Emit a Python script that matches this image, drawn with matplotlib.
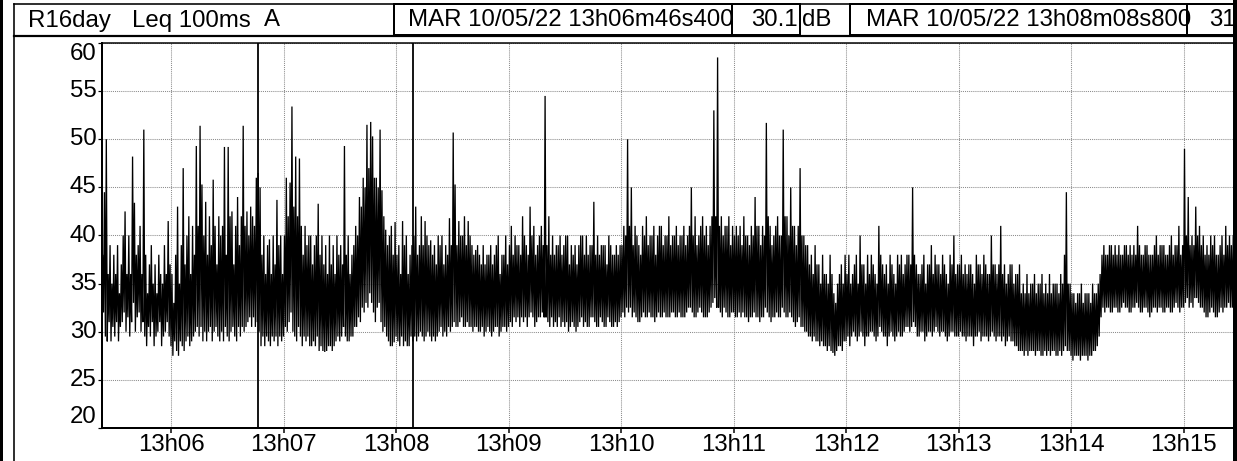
import numpy as np
import matplotlib
matplotlib.use("Agg")
import matplotlib.pyplot as plt
from matplotlib.patches import Rectangle

plt.rcParams['font.family'] = ['Liberation Sans', 'DejaVu Sans']

# ------------- data: per-second floor (lo) and peak (hi) of the 100 ms Leq, dB(A) -------------
# time in seconds after 13h00; first second is 13h05m23s
t_start = 323
hi_1305 = [38, 44.5, 50, 36, 39, 35, 38, 36, 39, 34, 37, 40, 42.5, 36, 40, 36, 48.2, 43.4, 38, 39,
           41, 36, 51, 38, 34, 37, 39, 35, 37, 34, 38, 36, 35, 39, 36, 41.5, 37]
lo_1305 = [30, 32, 29.5, 29, 31, 29, 30.5, 29.5, 31, 29, 30.5, 31, 32, 30, 31.5, 29.5, 31, 33, 30, 31.5,
           32, 30, 31, 29.5, 28.5, 30.5, 29.5, 31, 28.5, 29.5, 30, 31, 28.5, 29.5, 30, 31, 29.5]
hi_1306 = [36, 33, 38, 43, 35, 39, 47, 37, 40, 42, 36, 41, 38, 49.3, 41, 51.4, 45.3, 40, 43.5, 38,
           42, 39, 45.8, 41, 37, 42, 40, 41, 49.2, 38, 49.2, 42, 42.5, 37, 41, 44, 39, 42, 51.4, 41,
           42.5, 40, 43, 42, 41, 46, 46.5, 45, 38, 40, 36, 39, 39.6, 36, 40, 37, 43.7, 39, 40, 36]
lo_1306 = [28.5, 27.5, 29, 28, 27.5, 29, 28.5, 28, 29, 29.5, 28.5, 29, 29.5, 30, 30.5, 29.5, 30.5, 29, 30, 29,
           30, 30.5, 29, 30, 30.5, 29.5, 29, 30, 29, 30.5, 29.5, 29, 30, 30.5, 29.5, 29, 30.5, 29.5, 30.5, 30,
           30.5, 31, 31.5, 30.5, 31.5, 30.5, 31, 30, 28.5, 29.5, 28.5, 29.5, 29, 28.5, 29.5, 29, 29.5, 28.5, 29.5, 29]
hi_1307 = [40, 46, 42, 45.5, 53.4, 43, 48.2, 42, 48, 41, 38, 41, 39, 40, 40, 37, 39, 40, 43.3, 38,
           40, 37, 39, 36, 40, 37, 39, 36, 40, 38, 39, 37, 49.3, 38, 40, 36, 38, 39, 41, 40,
           44, 43, 46, 45, 51.5, 47, 51.8, 50.3, 46, 46, 45, 51, 44.7, 42, 40.6, 39, 40, 41, 38, 41.4]
lo_1307 = [29.5, 30.5, 30, 31, 32, 30, 29.5, 29, 30.5, 29.5, 28.5, 29.5, 29, 29.5, 28.5, 28.5, 29, 28.5, 29.5, 28,
           28.5, 28, 27.9, 28, 28.5, 28.5, 28, 28.5, 29, 29.5, 29, 29.5, 30.5, 29.5, 29, 29, 29.5, 29.5, 30.5, 30.5,
           31.5, 31, 32.5, 32, 33, 32.5, 34, 33, 32, 31, 32.5, 33, 31, 30, 30.5, 29.5, 29, 28.5, 28.5, 28.9]
hi_1308 = [38, 39, 36, 41.5, 39, 40, 36, 38, 39, 40, 43, 38, 39, 42, 39, 41.5, 40, 39, 39.5, 38,
           39, 37, 40, 39, 40, 37, 39, 38, 41.8, 39, 50.7, 45.3, 39, 41.5, 40, 40, 42, 39, 41.5, 40,
           39, 38, 38.5, 39, 38, 37, 39, 37, 38, 38, 39, 37, 38, 39, 40, 36, 38, 38, 40, 37]
lo_1308 = [29.5, 29, 28.5, 29.5, 28.5, 29, 28.5, 28.5, 29.5, 29, 29.5, 29, 29.5, 30, 29.5, 29, 29.5, 30, 29.5, 29,
           29.5, 29, 29.5, 30, 30.5, 29.5, 30, 29.5, 30.5, 30, 30.5, 31, 30.5, 30.5, 31, 31.5, 30.5, 30.5, 31, 30.5,
           30.5, 30, 30.5, 30.5, 30, 30, 30.5, 29.5, 30, 30.5, 30, 29.5, 30, 30.5, 30.5, 29.5, 30, 30.5, 30.5, 30]
hi_1309 = [39, 41, 38, 40, 39, 39, 38, 42, 40, 39, 38, 43, 40, 41, 38, 39, 40, 41, 39, 54.5,
           39, 42, 38, 40, 38, 39, 39, 40, 38, 39, 40, 40, 37, 39, 38, 39, 37, 39, 40, 40,
           38, 40, 38, 39, 39, 43.5, 38, 40, 38, 39, 39, 39, 37, 40, 39, 38, 38, 39, 38, 39]
lo_1309 = [30.5, 31, 30.5, 31.5, 31, 31.5, 30.5, 31.5, 31, 31.5, 30.5, 31.5, 32, 31.5, 30.5, 31, 31.5, 31.5, 32, 31.5,
           31.5, 31, 30.5, 31.5, 30.5, 31, 30.5, 31.5, 30.5, 31, 30.5, 31, 30, 30.5, 31, 30.5, 30, 30.5, 31, 31.5,
           30.5, 31, 30.5, 30.5, 31.5, 31.5, 31, 30.5, 30.5, 31.5, 31, 30.5, 30.5, 31.5, 31, 30.5, 30.5, 31, 30.5, 31]
hi_1310 = [39, 41, 40, 50, 41, 45, 39, 41, 40, 39, 38, 41, 40, 42, 39, 40, 40, 41, 38, 40,
           41, 41, 39, 40, 40, 42, 39, 40, 40, 41, 39, 40, 40, 41, 39, 40, 41, 45, 40, 42,
           39, 40, 41, 42, 40, 41, 39, 41, 42, 53, 42, 58.5, 41, 42, 40, 41, 41, 42, 39, 41]
lo_1310 = [31.5, 32, 31.5, 32.5, 32, 32.5, 31.5, 32, 31.5, 31, 31, 31.5, 32, 31.5, 31.5, 32, 31.5, 31.5, 31, 31.5,
           32, 31.5, 31.5, 32, 31.5, 31.5, 31.5, 32, 32, 31.5, 31.5, 32, 31.5, 31.5, 31.5, 32, 32.5, 32.5, 32, 31.5,
           31.5, 32, 32.5, 32, 31.5, 31.5, 31.5, 32, 32.5, 33, 33.5, 32.5, 32.5, 32, 31.5, 32.5, 32, 31.5, 31.5, 32]
hi_1311 = [40, 41, 40, 41, 39, 42, 40, 40, 39, 41, 40, 44, 41, 41, 39, 41, 40, 51.7, 42, 41,
           39, 40, 41, 42, 40, 40, 51, 42, 42, 40, 45, 41, 41, 39, 41, 47, 40, 40, 39, 39,
           37, 38, 36, 39, 37, 37, 35, 38, 36, 36, 35, 38, 36, 34, 33, 35, 36, 37, 35, 38]
lo_1311 = [32, 31.5, 31.5, 32, 31.5, 32, 31.5, 31.5, 31, 31.5, 31.5, 32, 31.5, 31.5, 31, 31.5, 31.5, 32.5, 32, 31.5,
           31, 31.5, 31.5, 32, 31.5, 31.5, 32.5, 32, 31.5, 31.5, 32, 31.5, 31, 30.5, 31, 31.5, 30.5, 30.5, 30, 30,
           29.5, 29.5, 29, 29.5, 29, 29, 28.5, 29, 28.5, 28.5, 28, 28.5, 28, 27.8, 27.5, 28, 28.5, 28.5, 28, 29]
hi_1312 = [36, 38, 35, 36, 37, 38, 35, 40, 37, 37, 35, 38, 36, 38, 37, 36, 35, 41, 38, 37,
           36, 37, 35, 38, 37, 36, 35, 38, 37, 38, 36, 37, 38, 38, 37, 45, 38, 37, 36, 36,
           37, 38, 35, 37, 37, 39, 36, 38, 37, 37, 36, 38, 37, 36, 35, 38, 37, 40, 36, 37]
lo_1312 = [29, 29.5, 28.5, 29.5, 30, 29.5, 29, 29.5, 30, 29.5, 28.5, 29.5, 29.5, 30, 30, 29.5, 29, 29.5, 30.5, 30,
           29.5, 29.5, 28.5, 29.5, 30, 29.5, 29, 29.5, 30, 29.5, 29.5, 30, 30.5, 30.5, 30, 30.5, 31, 30.5, 29.5, 29.5,
           30, 30, 29, 29.5, 30, 30, 29.5, 30, 30.5, 30, 29.5, 30, 30, 29.5, 29, 29.5, 30, 30, 29.5, 29.5]
hi_1313 = [37, 38, 36, 37, 36, 37, 37, 36, 35, 38, 37, 37, 36, 38, 37, 36, 36, 40, 37, 37,
           36, 37, 41, 36, 37, 35, 36, 37, 37, 35, 36, 36, 37, 34, 35, 34, 36, 34, 35, 35,
           36, 34, 35, 35, 36, 34, 35, 34, 36, 34, 35, 35, 35, 34, 36, 35, 38, 44.5, 35, 35]
lo_1313 = [29.5, 30, 29.5, 29.5, 29, 29.5, 29.5, 29.5, 28.5, 29.5, 29.5, 30, 29, 29.5, 29.5, 29.5, 29, 29.5, 30, 29.5,
           29, 29.5, 29.5, 29, 29.5, 28.5, 29, 29.5, 29, 29, 28.5, 28.5, 28, 28, 28, 27.5, 28, 27.5, 28, 28,
           28, 27.5, 28, 28, 27.5, 27.5, 28, 27.5, 28, 27.5, 28, 28, 27.5, 27.5, 28, 27.5, 28, 28.5, 28, 28]
hi_1314 = [34, 34, 33, 34, 34, 35, 33, 34, 34, 34, 33, 35, 34, 34, 35, 36, 38, 39, 38, 38,
           39, 39, 38, 39, 38, 39, 38, 38, 39, 39, 38, 39, 38, 39, 38, 41, 39, 38, 38, 39,
           39, 38, 38, 38, 39, 40, 38, 39, 39, 39, 38, 38, 39, 40, 38, 39, 39, 41, 38, 39]
lo_1314 = [27.5, 27, 27.5, 27.5, 27.5, 27, 27.5, 27.5, 27.5, 27, 27.5, 27.5, 28, 28, 28.5, 29.5, 31.5, 32.5, 32, 32.5,
           32.5, 32, 32, 32.5, 32.5, 32, 32, 32.5, 33, 32.5, 32.5, 32, 32, 32.5, 32.5, 33, 32.5, 32, 32, 32.5,
           32.5, 32, 31.5, 32, 32.5, 32.5, 32, 32.5, 32.5, 32, 32, 32.5, 32.5, 32, 32, 32.5, 33, 32.5, 32, 32.5]
hi_1315 = [49, 40, 44, 39, 40, 39, 43, 40, 41, 39, 40, 38, 39, 38, 40, 39, 40, 38, 38, 39,
           40, 38, 41, 39, 40, 39, 40, 38, 39]
lo_1315 = [32.5, 33, 33.5, 32.5, 33, 32.5, 33.5, 33.5, 33, 32.5, 32.5, 32, 31.5, 31.5, 32, 32.5, 32, 31.5, 31.5, 32,
           32.5, 32, 32.5, 32.5, 33, 32.5, 32.5, 32, 32.5]

cursor_times = [406.4, 488.8]          # 13h06m46s400, 13h08m08s800
cursor_labels = ["MAR 10/05/22 13h06m46s400", "MAR 10/05/22 13h08m08s800"]
cursor_values = ["30.1", "31"]
x_tick_minutes = [6, 7, 8, 9, 10, 11, 12, 13, 14, 15]
x_tick_labels = ["13h%02d" % m for m in x_tick_minutes]
y_ticks = [20, 25, 30, 35, 40, 45, 50, 55, 60]
x_min, x_max = 323.2, 928.5

hi = hi_1305 + hi_1306 + hi_1307 + hi_1308 + hi_1309 + hi_1310 + hi_1311 + hi_1312 + hi_1313 + hi_1314 + hi_1315
lo = lo_1305 + lo_1306 + lo_1307 + lo_1308 + lo_1309 + lo_1310 + lo_1311 + lo_1312 + lo_1313 + lo_1314 + lo_1315
n = len(hi)
t = np.empty(2 * n)
v = np.empty(2 * n)
t[0::2] = t_start + np.arange(n)
t[1::2] = t_start + np.arange(n) + 0.5
v[0::2] = lo
v[1::2] = hi

# ---------------- figure ----------------
W, H = 1237, 461
fig = plt.figure(figsize=(W / 100, H / 100), dpi=100)
px = 72 / 100  # points per pixel
FS = 17.3

ax = fig.add_axes([102 / W, (H - 428) / H, (W - 102) / W, (428 - 43) / H])
ax.plot(t, v, color='black', lw=1.3 * px, solid_joinstyle='miter', zorder=3)
for ct in cursor_times:
    ax.axvline(ct, color='black', lw=1.8 * px, zorder=4)

ax.set_xlim(x_min, x_max)
ax.set_ylim(20, 60)
ax.set_xticks([m * 60 for m in x_tick_minutes])
ax.set_xticklabels(x_tick_labels, fontsize=FS)
ax.set_yticks(y_ticks)
ax.set_yticklabels([])
ax.grid(True, color='#8c8c8c', linestyle=(0, (1, 1)), linewidth=0.75, zorder=1)
ax.set_axisbelow(True)
ax.tick_params(axis='x', direction='out', length=5 * px, width=1.5 * px, pad=0.5)
ax.tick_params(axis='y', direction='out', length=4 * px, width=1.2 * px, pad=0.5)
for s in ['left', 'bottom']:
    ax.spines[s].set_linewidth(2 * px)
ax.spines['top'].set_linewidth(1.5 * px)
ax.spines['right'].set_visible(False)

ytr = ax.get_yaxis_transform()
for yv in y_ticks:
    va = 'center'
    if yv == y_ticks[0]:
        va = 'bottom'
    elif yv == y_ticks[-1]:
        va = 'top'
    ax.text(-5.5 / (W - 102), yv, str(yv), transform=ytr, ha='right', va=va, fontsize=FS)

# ---------------- overlay (frame + header) ----------------
ov = fig.add_axes([0, 0, 1, 1], zorder=10)
ov.set_xlim(0, W)
ov.set_ylim(H, 0)
ov.axis('off')
ov.patch.set_visible(False)

ov.add_patch(Rectangle((0, 0), 3, H, color='black', lw=0))
ov.plot([14, 14], [4, H], color='black', lw=1.6 * px)
ov.plot([14, W], [4, 4], color='black', lw=1.6 * px)
ov.plot([14, W], [36, 36], color='black', lw=2.2 * px)

hy = 20.5
ov.text(28, hy, "R16day", fontsize=FS, va='center', ha='left')
ov.text(132, hy, "Leq 100ms", fontsize=FS, va='center', ha='left')
ov.text(264, hy, "A", fontsize=FS, va='center', ha='left')

boxes = [(394, 732), (732, 800), (850, 1187), (1187, 1265)]
rects = []
for x0, x1 in boxes:
    r = Rectangle((x0, 4.5), x1 - x0, 31, fill=False, ec='black', lw=2 * px)
    ov.add_patch(r)
    rects.append(r)

txt = ov.text(408, hy, cursor_labels[0], fontsize=FS, va='center', ha='left')
txt.set_clip_path(rects[0])
ov.text(798, hy, cursor_values[0], fontsize=FS, va='center', ha='right')
ov.text(802, hy, "dB", fontsize=FS, va='center', ha='left')
txt = ov.text(866, hy, cursor_labels[1], fontsize=FS, va='center', ha='left')
txt.set_clip_path(rects[2])
ov.text(1209, hy, cursor_values[1], fontsize=FS, va='center', ha='left')
ov.add_patch(Rectangle((1233, 0), 4, H, color='black', lw=0, zorder=20))

fig.savefig("out.png", dpi=100)
